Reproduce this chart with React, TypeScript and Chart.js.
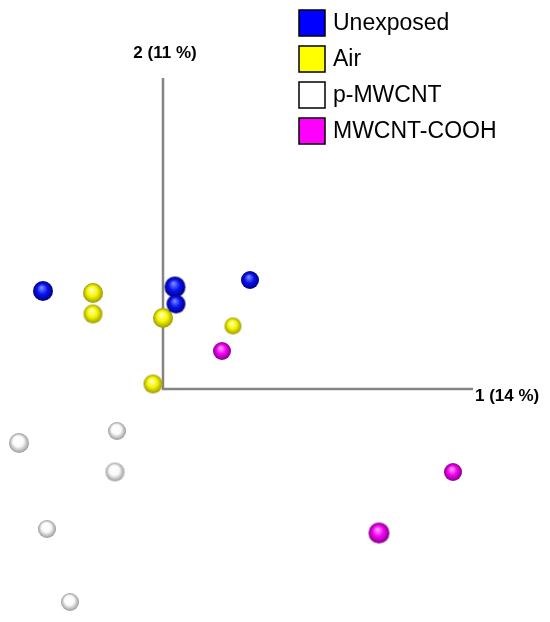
import React, { useEffect, useRef } from "react";
import { Chart, registerables } from "chart.js";
Chart.register(...registerables);

// ---- data (principal component scores) ----
const seriesNames = ["Unexposed", "Air", "p-MWCNT", "MWCNT-COOH"];
const axisTitles = ["1 (14 %)", "2 (11 %)"];

const unexposedPC1 = [-2.4, 0.24, 0.26, 1.74];
const unexposedPC2 = [1.96, 2.04, 1.7, 2.18];
const unexposedPC3 = [0.5, 1.0, 0.0, -0.5];

const airPC1 = [-1.4, -1.4, 0.0, 1.4, -0.2];
const airPC2 = [1.92, 1.5, 1.42, 1.26, 0.1];
const airPC3 = [0.5, 0.0, 0.5, -1.0, 0.0];

const pMwcntPC1 = [-2.88, -0.92, -0.96, -2.32, -1.86];
const pMwcntPC2 = [-1.08, -0.84, -1.66, -2.8, -4.26];
const pMwcntPC3 = [0.5, -0.5, 0.0, -0.5, -0.5];

const coohPC1 = [1.18, 5.8, 4.32];
const coohPC2 = [0.76, -1.66, -2.88];
const coohPC3 = [-0.5, -0.5, 1.0];

const axisLength = [6.2, 6.22];

// ---- styles ----
const sphereStyles = [
  { base: "#0812f4", light: "#7c8cff", dark: "#00007a", legend: "#0000ff" },
  { base: "#f6f600", light: "#ffffc0", dark: "#9a9a00", legend: "#ffff00" },
  { base: "#fafafa", light: "#ffffff", dark: "#9a9a9a", legend: "#ffffff" },
  { base: "#f400f4", light: "#ffa0ff", dark: "#850085", legend: "#ff00ff" },
];

const sphereCache: Record<string, HTMLCanvasElement> = {};
function sphere(idx: number, r: number): HTMLCanvasElement {
  const key = idx + "_" + r.toFixed(2);
  if (sphereCache[key]) return sphereCache[key];
  const st = sphereStyles[idx];
  const s = Math.ceil(2 * r + 2);
  const c = document.createElement("canvas");
  c.width = s;
  c.height = s;
  const ctx = c.getContext("2d")!;
  const cx = s / 2,
    cy = s / 2;
  const g = ctx.createRadialGradient(cx - r * 0.15, cy - r * 0.35, r * 0.05, cx, cy, r);
  g.addColorStop(0, st.light);
  g.addColorStop(0.5, st.base);
  g.addColorStop(1, st.dark);
  ctx.fillStyle = g;
  ctx.beginPath();
  ctx.arc(cx, cy, r, 0, Math.PI * 2);
  ctx.fill();
  sphereCache[key] = c;
  return c;
}

const pc1s = [unexposedPC1, airPC1, pMwcntPC1, coohPC1];
const pc2s = [unexposedPC2, airPC2, pMwcntPC2, coohPC2];
const pc3s = [unexposedPC3, airPC3, pMwcntPC3, coohPC3];

const radiusOf = (z: number) => 9.5 + z;

const overlayPlugin = {
  id: "overlay",
  afterDraw(chart: any) {
    const ctx = chart.ctx as CanvasRenderingContext2D;
    const xs = chart.scales.x;
    const ys = chart.scales.y;
    ctx.save();
    // axis titles
    ctx.fillStyle = "#000";
    ctx.font = "bold 17px 'Liberation Sans', Arial, sans-serif";
    ctx.textAlign = "center";
    ctx.textBaseline = "alphabetic";
    ctx.fillText(axisTitles[1], xs.getPixelForValue(0) + 2, ys.getPixelForValue(axisLength[1]) - 20);
    ctx.textAlign = "left";
    ctx.textBaseline = "middle";
    ctx.fillText(axisTitles[0], xs.getPixelForValue(axisLength[0]) + 2, ys.getPixelForValue(0) + 7);
    // legend
    ctx.font = "23px 'Liberation Sans', Arial, sans-serif";
    ctx.textBaseline = "middle";
    ctx.textAlign = "left";
    seriesNames.forEach((name, i) => {
      const bx = 299,
        by = 10 + i * 36,
        bs = 26;
      ctx.fillStyle = sphereStyles[i].legend;
      ctx.fillRect(bx, by, bs, bs);
      ctx.strokeStyle = "#000";
      ctx.lineWidth = 1.5;
      ctx.strokeRect(bx, by, bs, bs);
      ctx.fillStyle = "#000";
      ctx.fillText(name, bx + 34, by + bs / 2 + 1);
    });
    ctx.restore();
  },
};

export default function App() {
  const ref = useRef<HTMLCanvasElement>(null);
  useEffect(() => {
    document.body.style.margin = "0";
    const datasets: any[] = seriesNames.map((name, i) => ({
      type: "scatter",
      label: name,
      order: 0,
      data: pc1s[i].map((x, j) => ({ x, y: pc2s[i][j], z: pc3s[i][j] })),
      radius: (c: any) => radiusOf(pc3s[i][c.dataIndex] ?? 0),
      pointStyle: (c: any) => sphere(i, radiusOf(pc3s[i][c.dataIndex] ?? 0)),
    }));
    datasets.push({
      type: "line",
      label: "axes",
      order: 10,
      data: [
        { x: 0, y: axisLength[1] },
        { x: 0, y: 0 },
        { x: axisLength[0], y: 0 },
      ],
      borderColor: "#858585",
      borderWidth: 2.5,
      pointRadius: 0,
      fill: false,
      tension: 0,
    });
    const chart = new Chart(ref.current!, {
      type: "scatter",
      data: { datasets },
      options: {
        animation: false,
        responsive: false,
        devicePixelRatio: 1,
        layout: { padding: 0, autoPadding: false },
        plugins: { legend: { display: false }, tooltip: { enabled: false } },
        scales: {
          x: { type: "linear", display: false, min: -3.26, max: 7.74 },
          y: { type: "linear", display: false, min: -4.66, max: 7.78 },
        },
      },
      plugins: [overlayPlugin],
    } as any);
    return () => chart.destroy();
  }, []);
  return <canvas ref={ref} width={550} height={622} style={{ display: "block" }} />;
}
